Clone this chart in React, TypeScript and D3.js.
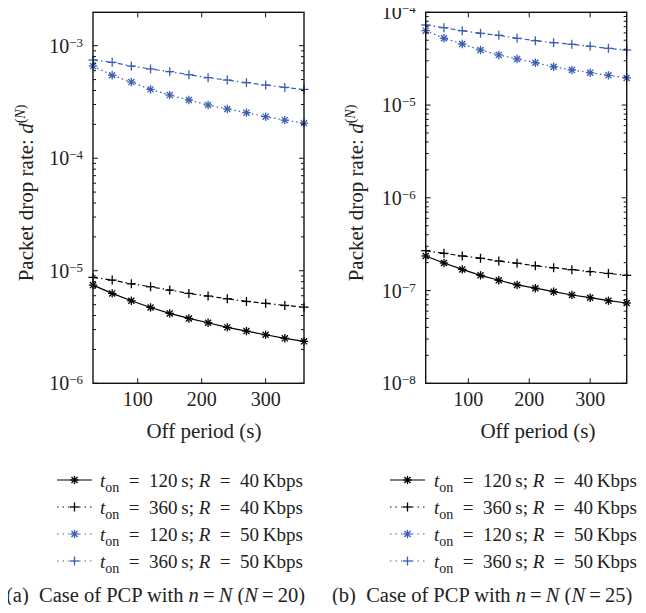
import React from 'react'
import * as d3 from 'd3'

const W = 646
const H = 613
const BLUE = '#3a5db3'
const FONT = 'Liberation Serif'

// off period (s)
const offPeriod = [30, 60, 90, 120, 150, 180, 210, 240, 270, 300, 330, 360]
const xTicks = [100, 200, 300]

// (a) N = 20
const a_120_40 = [7.46e-6, 6.29e-6, 5.41e-6, 4.72e-6, 4.18e-6, 3.77e-6, 3.45e-6, 3.14e-6, 2.91e-6, 2.70e-6, 2.51e-6, 2.36e-6]
const a_360_40 = [8.73e-6, 8.26e-6, 7.66e-6, 7.21e-6, 6.73e-6, 6.29e-6, 5.96e-6, 5.64e-6, 5.34e-6, 5.13e-6, 4.92e-6, 4.75e-6]
const a_120_50 = [6.59e-4, 5.46e-4, 4.75e-4, 4.09e-4, 3.64e-4, 3.29e-4, 2.97e-4, 2.74e-4, 2.54e-4, 2.34e-4, 2.18e-4, 2.05e-4]
const a_360_50 = [7.46e-4, 7.11e-4, 6.59e-4, 6.21e-4, 5.88e-4, 5.52e-4, 5.19e-4, 4.95e-4, 4.69e-4, 4.47e-4, 4.26e-4, 4.09e-4]

// (b) N = 25
const b_120_40 = [2.36e-7, 1.98e-7, 1.69e-7, 1.46e-7, 1.29e-7, 1.15e-7, 1.06e-7, 9.72e-8, 8.95e-8, 8.37e-8, 7.77e-8, 7.34e-8]
const b_360_40 = [2.69e-7, 2.52e-7, 2.36e-7, 2.23e-7, 2.08e-7, 1.97e-7, 1.85e-7, 1.76e-7, 1.68e-7, 1.60e-7, 1.53e-7, 1.46e-7]
const b_120_50 = [6.34e-5, 5.25e-5, 4.55e-5, 3.92e-5, 3.47e-5, 3.14e-5, 2.86e-5, 2.59e-5, 2.39e-5, 2.23e-5, 2.09e-5, 1.96e-5]
const b_360_50 = [7.30e-5, 6.82e-5, 6.33e-5, 5.94e-5, 5.65e-5, 5.25e-5, 4.95e-5, 4.70e-5, 4.52e-5, 4.30e-5, 4.09e-5, 3.92e-5]

const seriesStyle = [
  { ton: '120', rate: '40', color: '#000', dash: null, marker: 'star' },
  { ton: '360', rate: '40', color: '#000', dash: '5,3,1.5,3', marker: 'plus' },
  { ton: '120', rate: '50', color: BLUE, dash: '1.5,3', marker: 'star' },
  { ton: '360', rate: '50', color: BLUE, dash: '5,3,1.5,3', marker: 'plus' }
]

const Marker = ({ type, x, y, color }) => {
  if (type === 'plus') {
    const r = 4.5
    return (
      <g stroke={color} strokeWidth={1.3}>
        <line x1={x - r} x2={x + r} y1={y} y2={y} />
        <line x1={x} x2={x} y1={y - r} y2={y + r} />
      </g>
    )
  }
  const r = 4.2
  const d = r * 0.72
  return (
    <g stroke={color} strokeWidth={1.3}>
      <line x1={x - r} x2={x + r} y1={y} y2={y} />
      <line x1={x} x2={x} y1={y - r} y2={y + r} />
      <line x1={x - d} x2={x + d} y1={y - d} y2={y + d} />
      <line x1={x - d} x2={x + d} y1={y + d} y2={y - d} />
    </g>
  )
}

const Panel = ({ left, right, top, bottom, yDomain, exps, series, labelX, labelY, xLabelX, legendX, textX, caption, captionX }) => {
  var x = d3.scaleLinear().domain([30, 360]).range([left, right])
  var y = d3.scaleLog().domain(yDomain).range([bottom, top])
  var line = d3
    .line()
    .x(d => x(d[0]))
    .y(d => y(d[1]))

  // minor ticks of the log axis
  var minor = []
  exps.forEach(e => {
    for (var k = 2; k <= 9; k++) {
      var v = k * Math.pow(10, e)
      if (v >= yDomain[0] && v <= yDomain[1]) minor.push(v)
    }
  })
  var majors = exps.concat([exps[exps.length - 1] + 1]).filter(e => {
    var v = Math.pow(10, e)
    return v >= yDomain[0] * 0.999 && v <= yDomain[1] * 1.001
  })

  return (
    <g fill="#222">
      {/* lines and markers */}
      {series.map((vals, i) => {
        var st = seriesStyle[i]
        var pts = offPeriod.map((t, j) => [t, vals[j]])
        return (
          <g key={i}>
            <path d={line(pts)} fill="none" stroke={st.color} strokeWidth={1.2} strokeDasharray={st.dash || undefined} />
            {pts.map((p, j) => (
              <Marker key={j} type={st.marker} x={x(p[0])} y={y(p[1])} color={st.color} />
            ))}
          </g>
        )
      })}

      {/* frame */}
      <rect x={left} y={top} width={right - left} height={bottom - top} fill="none" stroke="#111" strokeWidth={1.4} />

      {/* x ticks */}
      {xTicks.map(t => (
        <g key={t}>
          <line x1={x(t)} x2={x(t)} y1={bottom} y2={bottom - 5} stroke="#111" />
          <line x1={x(t)} x2={x(t)} y1={top} y2={top + 5} stroke="#111" />
          <text x={x(t)} y={bottom + 23} textAnchor="middle" fontSize={20} fontFamily={FONT}>{t}</text>
        </g>
      ))}

      {/* y ticks */}
      {majors.map(e => (
        <g key={e}>
          <line x1={left} x2={left + 5} y1={y(Math.pow(10, e))} y2={y(Math.pow(10, e))} stroke="#111" />
          <line x1={right} x2={right - 5} y1={y(Math.pow(10, e))} y2={y(Math.pow(10, e))} stroke="#111" />
          <text x={left - 10} y={y(Math.pow(10, e)) + 7} textAnchor="end" fontSize={20} fontFamily={FONT}>
            <tspan>10</tspan>
            <tspan dy={-6} fontSize={13}>{'\u2212' + Math.abs(e)}</tspan>
          </text>
        </g>
      ))}
      {minor.map((v, i) => (
        <g key={'m' + i}>
          <line x1={left} x2={left + 3} y1={y(v)} y2={y(v)} stroke="#111" />
          <line x1={right} x2={right - 3} y1={y(v)} y2={y(v)} stroke="#111" />
        </g>
      ))}

      {/* axis labels */}
      <text transform={'translate(' + labelX + ',' + labelY + ') rotate(-90)'} textAnchor="middle" fontSize={21} fontFamily={FONT}>
        <tspan>Packet drop rate: </tspan>
        <tspan fontStyle="italic">d</tspan>
        <tspan dy={-8} fontSize={14}>(</tspan>
        <tspan fontSize={14} fontStyle="italic">N</tspan>
        <tspan fontSize={14}>)</tspan>
      </text>
      <text x={xLabelX} y={bottom + 55} textAnchor="middle" fontSize={21} fontFamily={FONT}>Off period (s)</text>

      {/* legend */}
      {seriesStyle.map((st, i) => {
        var ly = 480 + i * 27
        return (
          <g key={'l' + i}>
            <line x1={legendX} x2={legendX + 35} y1={ly} y2={ly} stroke={st.color} strokeWidth={1.2} strokeDasharray={st.dash ? '1.5,4' : undefined} />
            <Marker type={st.marker} x={legendX + 17.5} y={ly} color={st.color} />
            <text x={textX} y={ly + 7} fontSize={19} fontFamily={FONT}>
              <tspan fontStyle="italic">t</tspan>
              <tspan dy={5} fontSize={14}>on</tspan>
              <tspan dy={-5}>{'\u2002=\u2002' + st.ton + '\u2009s; '}</tspan>
              <tspan fontStyle="italic">R</tspan>
              <tspan>{'\u2002=\u2002' + st.rate + '\u2009Kbps'}</tspan>
            </text>
          </g>
        )
      })}

      {/* caption */}
      <text x={captionX} y={602} fontSize={20.5} fontFamily={FONT}>
        <tspan>{'(' + caption.tag + ')\u2002Case of PCP with '}</tspan>
        <tspan fontStyle="italic">n</tspan>
        <tspan>{'\u2009=\u2009'}</tspan>
        <tspan fontStyle="italic">N</tspan>
        <tspan>{' ('}</tspan>
        <tspan fontStyle="italic">N</tspan>
        <tspan>{'\u2009=\u2009' + caption.n + ')'}</tspan>
      </text>
    </g>
  )
}

export default function App() {
  return (
    <svg width={W} height={H} style={{ display: 'block', margin: '-8px' }}>
      <rect width={W} height={H} fill="#fff" />
      <Panel
        left={93}
        right={304}
        top={12.3}
        bottom={383.3}
        yDomain={[1e-6, 1.98e-3]}
        exps={[-6, -5, -4, -3]}
        series={[a_120_40, a_360_40, a_120_50, a_360_50]}
        labelX={33}
        labelY={193}
        xLabelX={204}
        legendX={57}
        textX={100}
        caption={{ tag: 'a', n: '20' }}
        captionX={6}
      />
      <Panel
        left={425.7}
        right={626.7}
        top={12.3}
        bottom={383.3}
        yDomain={[1e-8, 1e-4]}
        exps={[-8, -7, -6, -5]}
        series={[b_120_40, b_360_40, b_120_50, b_360_50]}
        labelX={363}
        labelY={193}
        xLabelX={538}
        legendX={390}
        textX={434}
        caption={{ tag: 'b', n: '25' }}
        captionX={332}
      />
    </svg>
  )
}
